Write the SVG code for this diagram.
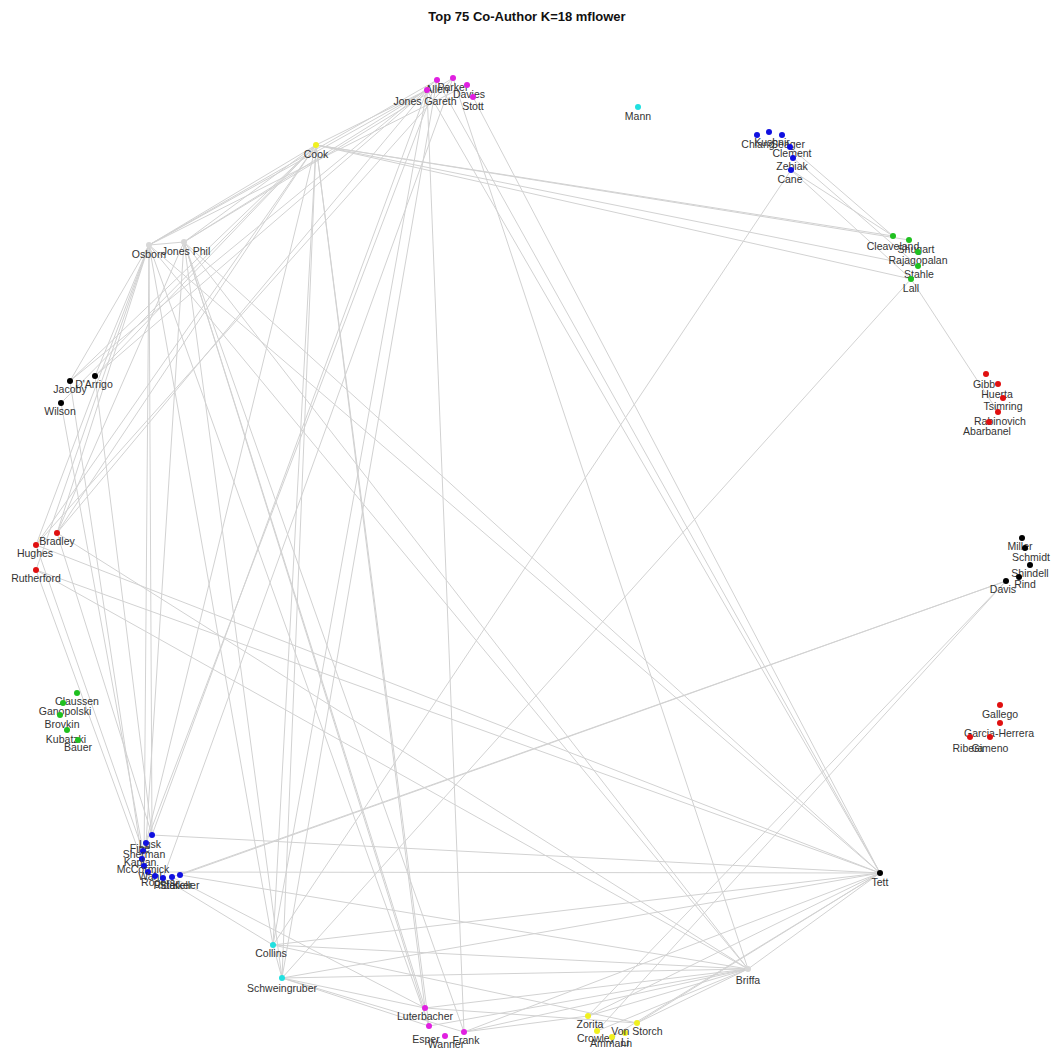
<svg xmlns="http://www.w3.org/2000/svg" width="1054" height="1064" viewBox="0 0 1054 1064">
<style>
.e line{stroke:#d2d2d2;stroke-width:1}
text{font-family:"Liberation Sans",Arial,sans-serif;font-size:10.5px;fill:#333;text-anchor:middle}
.t{font-size:13px;font-weight:bold;fill:#111}
.m{fill:#e020e0}.c{fill:#20e0e0}.y{fill:#f0f020}.g{fill:#d8d8d8}.b{fill:#1010e0}.gr{fill:#20c020}.r{fill:#e01010}.k{fill:#000}
</style>
<rect width="1054" height="1064" fill="#fff"/>
<text class="t" x="527" y="21">Top 75 Co-Author K=18 mflower</text>
<g id="edges" class="e">
<line x1="427" y1="90" x2="149" y2="245"/><line x1="437" y1="80" x2="149" y2="245"/><line x1="427" y1="90" x2="184" y2="242"/><line x1="453" y1="78" x2="184" y2="242"/><line x1="467" y1="85" x2="149" y2="245"/>
<line x1="427" y1="90" x2="316" y2="145"/>
<line x1="427" y1="90" x2="95" y2="376"/><line x1="437" y1="80" x2="70" y2="381"/><line x1="427" y1="90" x2="57" y2="533"/><line x1="453" y1="78" x2="36" y2="545"/>
<line x1="427" y1="90" x2="152" y2="835"/><line x1="437" y1="80" x2="143" y2="851"/><line x1="453" y1="78" x2="163" y2="878"/>
<line x1="427" y1="90" x2="273" y2="945"/><line x1="437" y1="80" x2="282" y2="978"/><line x1="427" y1="90" x2="464" y2="1032"/>
<line x1="316" y1="145" x2="429" y2="1026"/><line x1="316" y1="145" x2="425" y2="1008"/><line x1="184" y1="242" x2="464" y2="1032"/><line x1="149" y1="245" x2="429" y2="1026"/><line x1="184" y1="242" x2="425" y2="1008"/>
<line x1="473" y1="97" x2="880" y2="873"/><line x1="437" y1="80" x2="880" y2="873"/><line x1="427" y1="90" x2="880" y2="873"/><line x1="453" y1="78" x2="748" y2="969"/>
<line x1="316" y1="145" x2="893" y2="236"/><line x1="316" y1="145" x2="909" y2="240"/><line x1="316" y1="145" x2="918" y2="266"/><line x1="316" y1="145" x2="911" y2="279"/>
<line x1="316" y1="145" x2="149" y2="245"/><line x1="316" y1="145" x2="184" y2="242"/><line x1="316" y1="145" x2="70" y2="381"/><line x1="316" y1="145" x2="95" y2="376"/><line x1="316" y1="145" x2="61" y2="403"/><line x1="316" y1="145" x2="57" y2="533"/><line x1="316" y1="145" x2="36" y2="545"/>
<line x1="316" y1="145" x2="273" y2="945"/><line x1="316" y1="145" x2="282" y2="978"/><line x1="316" y1="145" x2="146" y2="843"/>
<line x1="149" y1="245" x2="184" y2="242"/><line x1="149" y1="245" x2="152" y2="835"/><line x1="149" y1="245" x2="144" y2="866"/><line x1="184" y1="242" x2="146" y2="843"/><line x1="149" y1="245" x2="57" y2="533"/><line x1="149" y1="245" x2="36" y2="545"/><line x1="149" y1="245" x2="36" y2="570"/><line x1="184" y1="242" x2="57" y2="533"/>
<line x1="149" y1="245" x2="748" y2="969"/><line x1="184" y1="242" x2="748" y2="969"/><line x1="184" y1="242" x2="880" y2="873"/><line x1="149" y1="245" x2="880" y2="873"/><line x1="149" y1="245" x2="273" y2="945"/><line x1="184" y1="242" x2="282" y2="978"/><line x1="184" y1="242" x2="429" y2="1026"/>
<line x1="70" y1="381" x2="142" y2="859"/><line x1="95" y1="376" x2="152" y2="835"/><line x1="61" y1="403" x2="143" y2="851"/><line x1="70" y1="381" x2="149" y2="245"/><line x1="95" y1="376" x2="149" y2="245"/>
<line x1="791" y1="170" x2="893" y2="236"/><line x1="793" y1="158" x2="918" y2="266"/><line x1="791" y1="170" x2="911" y2="279"/><line x1="790" y1="147" x2="893" y2="236"/>
<line x1="791" y1="170" x2="273" y2="945"/><line x1="911" y1="279" x2="282" y2="978"/><line x1="911" y1="279" x2="998" y2="412"/>
<line x1="1006" y1="581" x2="172" y2="877"/><line x1="1006" y1="581" x2="180" y2="875"/><line x1="1006" y1="581" x2="588" y2="1016"/><line x1="1006" y1="581" x2="597" y2="1031"/>
<line x1="880" y1="873" x2="152" y2="835"/><line x1="880" y1="873" x2="148" y2="872"/><line x1="880" y1="873" x2="273" y2="945"/><line x1="880" y1="873" x2="282" y2="978"/><line x1="880" y1="873" x2="748" y2="969"/><line x1="880" y1="873" x2="588" y2="1016"/><line x1="880" y1="873" x2="637" y2="1023"/><line x1="880" y1="873" x2="464" y2="1032"/><line x1="880" y1="873" x2="36" y2="545"/><line x1="880" y1="873" x2="36" y2="570"/><line x1="880" y1="873" x2="612" y2="1037"/>
<line x1="748" y1="969" x2="273" y2="945"/><line x1="748" y1="969" x2="282" y2="978"/><line x1="748" y1="969" x2="425" y2="1008"/><line x1="748" y1="969" x2="464" y2="1032"/><line x1="748" y1="969" x2="429" y2="1026"/><line x1="748" y1="969" x2="588" y2="1016"/><line x1="748" y1="969" x2="637" y2="1023"/><line x1="748" y1="969" x2="57" y2="533"/><line x1="748" y1="969" x2="36" y2="570"/><line x1="748" y1="969" x2="180" y2="875"/><line x1="748" y1="969" x2="597" y2="1031"/>
<line x1="57" y1="533" x2="152" y2="835"/><line x1="36" y1="545" x2="143" y2="851"/><line x1="36" y1="570" x2="144" y2="866"/>
<line x1="282" y1="978" x2="464" y2="1032"/><line x1="282" y1="978" x2="425" y2="1008"/><line x1="273" y1="945" x2="282" y2="978"/><line x1="282" y1="978" x2="429" y2="1026"/>
<line x1="273" y1="945" x2="637" y2="1023"/><line x1="273" y1="945" x2="163" y2="878"/>
<line x1="464" y1="1032" x2="588" y2="1016"/><line x1="425" y1="1008" x2="637" y2="1023"/><line x1="172" y1="877" x2="425" y2="1008"/>
</g>
<g id="n-allen"><circle class="m" cx="437" cy="80" r="3"/><text x="437" y="93">Allen</text></g>
<g id="n-parker"><circle class="m" cx="453" cy="78" r="3"/><text x="453" y="91">Parker</text></g>
<g id="n-davies"><circle class="m" cx="467" cy="85" r="3"/><text x="469" y="98">Davies</text></g>
<g id="n-jonesgareth"><circle class="m" cx="427" cy="90" r="3"/><text x="425" y="105">Jones Gareth</text></g>
<g id="n-stott"><circle class="m" cx="473" cy="97" r="3"/><text x="473" y="110">Stott</text></g>
<g id="n-mann"><circle class="c" cx="638" cy="107" r="3"/><text x="638" y="120">Mann</text></g>
<g id="n-cook"><circle class="y" cx="316" cy="145" r="3"/><text x="316" y="158">Cook</text></g>
<g id="n-osborn"><circle class="g" cx="149" cy="245" r="3"/><text x="149" y="258">Osborn</text></g>
<g id="n-jonesphil"><circle class="g" cx="184" cy="242" r="3"/><text x="186" y="255">Jones Phil</text></g>
<g id="n-chiang"><circle class="b" cx="757" cy="135" r="3"/><text x="758" y="148">Chiang</text></g>
<g id="n-kushnir"><circle class="b" cx="769" cy="132" r="3"/><text x="772" y="146">Kushnir</text></g>
<g id="n-seager"><circle class="b" cx="782" cy="135" r="3"/><text x="788" y="148">Seager</text></g>
<g id="n-clement"><circle class="b" cx="790" cy="147" r="3"/><text x="792" y="157">Clement</text></g>
<g id="n-zebiak"><circle class="b" cx="793" cy="158" r="3"/><text x="792" y="170">Zebiak</text></g>
<g id="n-cane"><circle class="b" cx="791" cy="170" r="3"/><text x="790" y="183">Cane</text></g>
<g id="n-cleaveland"><circle class="gr" cx="893" cy="236" r="3"/><text x="893" y="250">Cleaveland</text></g>
<g id="n-shugart"><circle class="gr" cx="909" cy="240" r="3"/><text x="916" y="253">Shugart</text></g>
<g id="n-rajagopalan"><circle class="gr" cx="918" cy="252" r="3"/><text x="918" y="264">Rajagopalan</text></g>
<g id="n-stahle"><circle class="gr" cx="918" cy="266" r="3"/><text x="919" y="278">Stahle</text></g>
<g id="n-lall"><circle class="gr" cx="911" cy="279" r="3"/><text x="911" y="292">Lall</text></g>
<g id="n-gibb"><circle class="r" cx="986" cy="374" r="3"/><text x="984" y="388">Gibb</text></g>
<g id="n-huerta"><circle class="r" cx="998" cy="384" r="3"/><text x="997" y="398">Huerta</text></g>
<g id="n-tsimring"><circle class="r" cx="1003" cy="398" r="3"/><text x="1003" y="410">Tsimring</text></g>
<g id="n-rabinovich"><circle class="r" cx="998" cy="412" r="3"/><text x="1000" y="425">Rabinovich</text></g>
<g id="n-abarbanel"><circle class="r" cx="989" cy="422" r="3"/><text x="987" y="435">Abarbanel</text></g>
<g id="n-miller"><circle class="k" cx="1022" cy="538" r="3"/><text x="1020" y="550">Miller</text></g>
<g id="n-schmidt"><circle class="k" cx="1025" cy="548" r="3"/><text x="1031" y="561">Schmidt</text></g>
<g id="n-shindell"><circle class="k" cx="1030" cy="565" r="3"/><text x="1030" y="577">Shindell</text></g>
<g id="n-rind"><circle class="k" cx="1019" cy="577" r="3"/><text x="1025" y="588">Rind</text></g>
<g id="n-davis"><circle class="k" cx="1006" cy="581" r="3"/><text x="1003" y="593">Davis</text></g>
<g id="n-gallego"><circle class="r" cx="1000" cy="705" r="3"/><text x="1000" y="718">Gallego</text></g>
<g id="n-garciaherrera"><circle class="r" cx="1000" cy="723" r="3"/><text x="999" y="737">Garcia-Herrera</text></g>
<g id="n-ribera"><circle class="r" cx="970" cy="737" r="3"/><text x="968" y="752">Ribera</text></g>
<g id="n-gimeno"><circle class="r" cx="990" cy="737" r="3"/><text x="990" y="752">Gimeno</text></g>
<g id="n-jacoby"><circle class="k" cx="70" cy="381" r="3"/><text x="70" y="393">Jacoby</text></g>
<g id="n-darrigo"><circle class="k" cx="95" cy="376" r="3"/><text x="94" y="388">D'Arrigo</text></g>
<g id="n-wilson"><circle class="k" cx="61" cy="403" r="3"/><text x="60" y="415">Wilson</text></g>
<g id="n-bradley"><circle class="r" cx="57" cy="533" r="3"/><text x="57" y="545">Bradley</text></g>
<g id="n-hughes"><circle class="r" cx="36" cy="545" r="3"/><text x="35" y="557">Hughes</text></g>
<g id="n-rutherford"><circle class="r" cx="36" cy="570" r="3"/><text x="36" y="582">Rutherford</text></g>
<g id="n-claussen"><circle class="gr" cx="77" cy="693" r="3"/><text x="77" y="705">Claussen</text></g>
<g id="n-ganopolski"><circle class="gr" cx="63" cy="703" r="3"/><text x="65" y="715">Ganopolski</text></g>
<g id="n-brovkin"><circle class="gr" cx="60" cy="715" r="3"/><text x="62" y="728">Brovkin</text></g>
<g id="n-kubatzki"><circle class="gr" cx="67" cy="730" r="3"/><text x="66" y="743">Kubatzki</text></g>
<g id="n-bauer"><circle class="gr" cx="78" cy="740" r="3"/><text x="78" y="751">Bauer</text></g>
<g id="n-bl1"><circle class="b" cx="152" cy="835" r="3"/><text x="150" y="848">Lusk</text></g>
<g id="n-bl2"><circle class="b" cx="146" cy="843" r="3"/><text x="140" y="852">Fine</text></g>
<g id="n-bl3"><circle class="b" cx="143" cy="851" r="3"/><text x="144" y="858">Sherman</text></g>
<g id="n-bl4"><circle class="b" cx="142" cy="859" r="3"/><text x="140" y="866">Kaplan</text></g>
<g id="n-bl5"><circle class="b" cx="144" cy="866" r="3"/><text x="143" y="873">McCormick</text></g>
<g id="n-bl6"><circle class="b" cx="148" cy="872" r="3"/><text x="150" y="880">Wahl</text></g>
<g id="n-bl7"><circle class="b" cx="155" cy="876" r="3"/><text x="158" y="886">Rogers</text></g>
<g id="n-bl8"><circle class="b" cx="163" cy="878" r="3"/><text x="166" y="889">Rider</text></g>
<g id="n-bl9"><circle class="b" cx="172" cy="877" r="3"/><text x="176" y="889">Stalker</text></g>
<g id="n-bl10"><circle class="b" cx="180" cy="875" r="3"/><text x="186" y="889">Keller</text></g>
<g id="n-collins"><circle class="c" cx="273" cy="945" r="3"/><text x="271" y="957">Collins</text></g>
<g id="n-schweingruber"><circle class="c" cx="282" cy="978" r="3"/><text x="282" y="992">Schweingruber</text></g>
<g id="n-luterbacher"><circle class="m" cx="425" cy="1008" r="3"/><text x="425" y="1020">Luterbacher</text></g>
<g id="n-esper"><circle class="m" cx="429" cy="1026" r="3"/><text x="426" y="1043">Esper</text></g>
<g id="n-wanner"><circle class="m" cx="445" cy="1036" r="3"/><text x="446" y="1048">Wanner</text></g>
<g id="n-frank"><circle class="m" cx="464" cy="1032" r="3"/><text x="466" y="1044">Frank</text></g>
<g id="n-zorita"><circle class="y" cx="588" cy="1016" r="3"/><text x="590" y="1028">Zorita</text></g>
<g id="n-crowley"><circle class="y" cx="597" cy="1031" r="3"/><text x="596" y="1042">Crowley</text></g>
<g id="n-ammann"><circle class="y" cx="612" cy="1037" r="3"/><text x="611" y="1047">Ammann</text></g>
<g id="n-li"><circle class="y" cx="625" cy="1033" r="3"/><text x="625" y="1046">Li</text></g>
<g id="n-vonstorch"><circle class="y" cx="637" cy="1023" r="3"/><text x="637" y="1035">Von Storch</text></g>
<g id="n-briffa"><circle class="g" cx="748" cy="969" r="3"/><text x="748" y="984">Briffa</text></g>
<g id="n-tett"><circle class="k" cx="880" cy="873" r="3"/><text x="880" y="886">Tett</text></g>
</svg>
